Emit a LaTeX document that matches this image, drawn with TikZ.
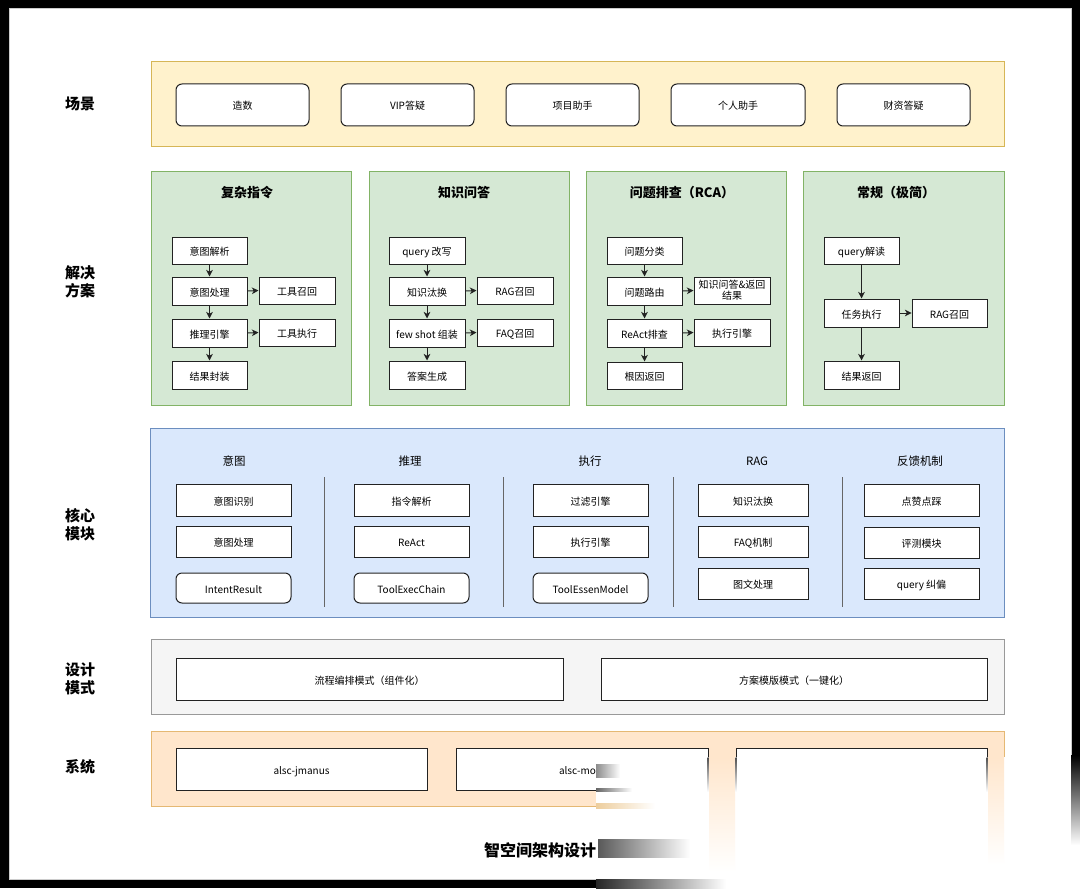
\documentclass[tikz,border=0pt]{standalone}
\usepackage{fontspec}
\setmainfont{Noto Sans CJK SC}
\usetikzlibrary{arrows.meta}
\definecolor{ylwf}{HTML}{FFF2CC}\definecolor{ylwd}{HTML}{D6B656}
\definecolor{grnf}{HTML}{D5E8D4}\definecolor{grnd}{HTML}{82B366}
\definecolor{bluf}{HTML}{DAE8FC}\definecolor{blud}{HTML}{6C8EBF}
\definecolor{gryf}{HTML}{F5F5F5}\definecolor{gryd}{HTML}{999999}
\definecolor{orgf}{HTML}{FFE6CC}\definecolor{orgd}{HTML}{E5B873}
\definecolor{sepc}{HTML}{666666}
\definecolor{edge}{HTML}{222222}
\begin{document}
\begin{tikzpicture}[x=0.75pt,y=-0.75pt,
  font=\fontsize{7.5pt}{9pt}\selectfont,
  rect/.style args={#1/#2/#3/#4}{anchor=center, at={({(#1+#3)/2},{(#2+#4)/2})},
     minimum width={(#3-#1)*0.75pt}, minimum height={(#4-#2)*0.75pt}},
  box/.style={draw=edge, fill=white, line width=0.75pt, inner sep=0pt, text height=0.8em, text depth=0.05em},
  rbox/.style={box, rounded corners=4.5pt},
  cont/.style={line width=0.75pt, inner sep=0pt},
  arr/.style={-{Stealth[length=5pt,width=5pt,inset=1.5pt]}, line width=0.75pt, edge},
  rowlab/.style={font=\fontsize{11.25pt}{13.5pt}\selectfont\bfseries, align=center},
  ptitle/.style={font=\fontsize{9.75pt}{12pt}\selectfont\bfseries},
  chead/.style={font=\fontsize{8.6pt}{10pt}\selectfont},
  sep/.style={draw=sepc, line width=0.75pt}
]
\useasboundingbox (0,0) rectangle (1080,888);
% frame
\fill[black] (0,0) rectangle (1080,888);
\fill[white, draw=black!20, line width=0.75pt] (9,9) rectangle (1071,879);

% row labels
\node[rowlab] (l1) at (80,104) {场景};
\node[rowlab] (l2) at (80,282) {解决\\方案};
\node[rowlab] (l3) at (80,525) {核心\\模块};
\node[rowlab] (l4) at (80,679) {设计\\模式};
\node[rowlab] (l5) at (80,767) {系统};

% ---------- scenarios
\node[cont, fill=ylwf, draw=ylwd, rect=151/62/1004/147] (scn) {};
\node[rbox, rect=176/84/309/126] (s1) {造数};
\node[rbox, rect=341/84/474/126] (s2) {VIP答疑};
\node[rbox, rect=506/84/639/126] (s3) {项目助手};
\node[rbox, rect=671/84/805/126] (s4) {个人助手};
\node[rbox, rect=837/84/970/126] (s5) {财资答疑};

% ---------- solutions
\node[cont, fill=grnf, draw=grnd, rect=151/171/351/405] (p1) {};
\node[cont, fill=grnf, draw=grnd, rect=369/171/569/405] (p2) {};
\node[cont, fill=grnf, draw=grnd, rect=586/171/786/405] (p3) {};
\node[cont, fill=grnf, draw=grnd, rect=803/171/1004/405] (p4) {};
\node[ptitle] (t1) at (247,193) {复杂指令};
\node[ptitle] (t2) at (464,193) {知识问答};
\node[ptitle] (t3) at (682,193) {问题排查（RCA）};
\node[ptitle] (t4) at (896,193) {常规（极简）};

% panel 1
\node[box, rect=172/237/247/264] (a1) {意图解析};
\node[box, rect=172/277/247/305] (a2) {意图处理};
\node[box, rect=172/319/247/347] (a3) {推理引擎};
\node[box, rect=172/361/247/389] (a4) {结果封装};
\node[box, rect=259/277/335/304] (a5) {工具召回};
\node[box, rect=259/319/335/346] (a6) {工具执行};
\draw[arr] (a1) -- (a2);
\draw[arr] (a2) -- (a3);
\draw[arr] (a3) -- (a4);
\draw[arr] (a2.east) -- (a5.west);
\draw[arr] (a3.east) -- (a6.west);

% panel 2
\node[box, rect=389/237/465/264] (b1) {query 改写};
\node[box, rect=389/277/465/305] (b2) {知识汰换};
\node[box, rect=389/319/465/347] (b3) {few shot 组装};
\node[box, rect=389/361/465/389] (b4) {答案生成};
\node[box, rect=477/277/553/304] (b5) {RAG召回};
\node[box, rect=477/319/553/346] (b6) {FAQ召回};
\draw[arr] (b1) -- (b2);
\draw[arr] (b2) -- (b3);
\draw[arr] (b3) -- (b4);
\draw[arr] (b2.east) -- (b5.west);
\draw[arr] (b3.east) -- (b6.west);

% panel 3
\node[box, rect=607/237/682/264] (c1) {问题分类};
\node[box, rect=607/277/682/305] (c2) {问题路由};
\node[box, rect=607/319/682/347] (c3) {ReAct排查};
\node[box, rect=607/362/682/389] (c4) {根因返回};
\node[box, rect=694/277/770/304, font=\fontsize{7.5pt}{8.6pt}\selectfont, align=center, text height=14.6pt, text depth=0.4pt] (c5) {知识问答\&返回\\结果};
\node[box, rect=694/319/770/346] (c6) {执行引擎};
\draw[arr] (c1) -- (c2);
\draw[arr] (c2) -- (c3);
\draw[arr] (c3) -- (c4);
\draw[arr] (c2.east) -- (c5.west);
\draw[arr] (c3.east) -- (c6.west);

% panel 4
\node[box, rect=824/237/899/264] (d1) {query解读};
\node[box, rect=824/299/899/327] (d2) {任务执行};
\node[box, rect=912/299/987/327] (d3) {RAG召回};
\node[box, rect=824/361/899/389] (d4) {结果返回};
\draw[arr] (d1) -- (d2);
\draw[arr] (d2) -- (d4);
\draw[arr] (d2.east) -- (d3.west);

% ---------- core modules
\node[cont, fill=bluf, draw=blud, rect=150/428/1004/617] (core) {};
\node[chead] (h1) at (234,461) {意图};
\node[chead] (h2) at (410,461) {推理};
\node[chead] (h3) at (590,461) {执行};
\node[chead] (h4) at (757,461) {RAG};
\node[chead] (h5) at (920,461) {反馈机制};
\coordinate (v1a) at (324,477); \coordinate (v1b) at (324,607);
\coordinate (v2a) at (503,477); \coordinate (v2b) at (503,607);
\coordinate (v3a) at (673,477); \coordinate (v3b) at (673,607);
\coordinate (v4a) at (842,477); \coordinate (v4b) at (842,607);
\draw[sep] (v1a) -- (v1b);
\draw[sep] (v2a) -- (v2b);
\draw[sep] (v3a) -- (v3b);
\draw[sep] (v4a) -- (v4b);

\node[box, rect=176/484/291/516] (m11) {意图识别};
\node[box, rect=176/526/291/557] (m12) {意图处理};
\node[rbox, rect=176/573/291/603] (m13) {IntentResult};
\node[box, rect=354/484/469/516] (m21) {指令解析};
\node[box, rect=354/526/469/557] (m22) {ReAct};
\node[rbox, rect=354/573/469/603] (m23) {ToolExecChain};
\node[box, rect=533/484/648/516] (m31) {过滤引擎};
\node[box, rect=533/526/648/557] (m32) {执行引擎};
\node[rbox, rect=533/573/648/603] (m33) {ToolEssenModel};
\node[box, rect=698/484/808/516] (m41) {知识汰换};
\node[box, rect=698/526/808/557] (m42) {FAQ机制};
\node[box, rect=698/568/808/599] (m43) {图文处理};
\node[box, rect=864/484/979/516] (m51) {点赞点踩};
\node[box, rect=864/527/979/558] (m52) {评测模块};
\node[box, rect=864/568/979/599] (m53) {query 纠偏};

% ---------- design modes
\node[cont, fill=gryf, draw=gryd, rect=151/639/1004/714] (dsg) {};
\node[box, rect=176/658/563/700] (e1) {流程编排模式（组件化）};
\node[box, rect=601/658/987/700] (e2) {方案模版模式（一键化）};

% ---------- systems
\node[cont, fill=orgf, draw=orgd, rect=151/731/1004/806] (sys) {};
\node[box, rect=176/748/427/790] (f1) {alsc-jmanus};
\node[box, rect=456/748/708/790, text width=34.5pt, align=left] (f2) {alsc-mo};
\node[box, rect=736/748/987/790] (f3) {};

% caption
\node[font=\fontsize{12pt}{14pt}\selectfont\bfseries] (cap) at (548,850) {智空间架构设计图};

% ---------- image artefact (white smear at the lower right)
\fill[white] (596,757) rectangle (1080,888);
\shade[top color=orgf, bottom color=white] (709,757) rectangle (735,872);
\shade[top color=orgf, bottom color=white] (988,757) rectangle (1004,865);
\shade[top color=edge!80, bottom color=white] (707.6,757) rectangle (708.6,792);
\shade[top color=edge!80, bottom color=white] (735.6,757) rectangle (736.6,792);
\shade[top color=edge!80, bottom color=white] (986.6,757) rectangle (987.6,792);
\shade[top color=black, bottom color=white] (1071,755) rectangle (1080,845);
\shade[left color=black!45, right color=white] (596,764) rectangle (620,777);
\shade[left color=black!60, right color=white] (596,788.5) rectangle (632,791.5);
\shade[left color=orgd!70, right color=white] (596,803) rectangle (655,808);
\shade[left color=black!65, right color=white] (598,839) rectangle (690,857);
\shade[left color=black!85, right color=white] (596,879) rectangle (726,888);
\end{tikzpicture}
\end{document}
